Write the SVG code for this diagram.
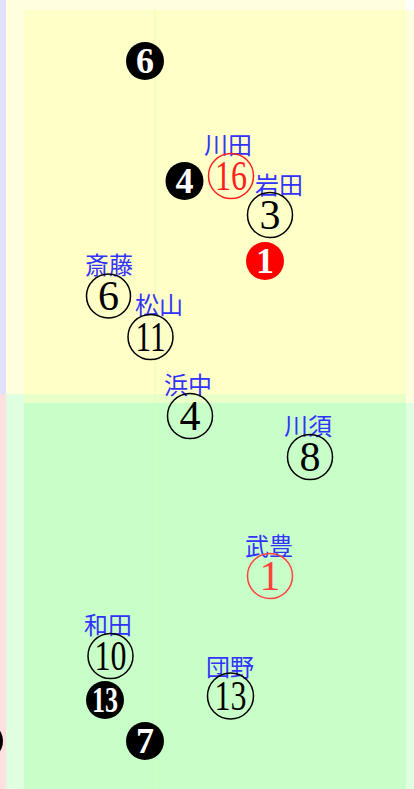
<svg xmlns="http://www.w3.org/2000/svg" width="414" height="789" viewBox="0 0 414 789">
<style>
.lbl{font-family:"Noto Sans CJK JP","Noto Sans CJK SC",sans-serif;font-size:24px;fill:#3333ff;text-anchor:middle}
.ring{fill:none;stroke:#000;stroke-width:1.5}
.ringr{fill:none;stroke:#ff2020;stroke-width:1.5}
.num{font-family:"Liberation Serif","Times New Roman",serif;font-size:42px;fill:#000;text-anchor:middle}
.numr{font-family:"Liberation Serif","Times New Roman",serif;font-size:42px;fill:#ff2020;text-anchor:middle}
.dot{fill:#000}
.dotr{fill:#ff0000}
.wnum{font-family:"Liberation Serif","Times New Roman",serif;font-size:36px;font-weight:bold;fill:#fff;text-anchor:middle}
</style>
<g id="background">
<rect x="0" y="0" width="414" height="789" fill="#ffffff"/>
<rect x="0" y="0" width="6" height="394" fill="#e0e0ff"/>
<rect x="0" y="394" width="6" height="395" fill="#ffe0e0"/>
<rect x="6" y="0" width="400" height="394" fill="#ffffe0"/>
<rect x="6" y="394" width="400" height="395" fill="#e0ffe0"/>
<rect x="406" y="10" width="8" height="393" fill="#ffffe0"/>
<rect x="406" y="403" width="8" height="386" fill="#e0ffe0"/>
<rect x="24" y="10" width="382" height="384" fill="#ffffc8"/>
<rect x="24" y="394" width="382" height="9" fill="#e8ffc8"/>
<rect x="24" y="403" width="382" height="386" fill="#c8ffc8"/>
<line x1="155" y1="10" x2="155" y2="789" stroke="#e0ffb0" stroke-width="1" opacity="0.8"/>
</g>
<g id="connectors"></g>
<g id="n6b"><circle class="dot" cx="145" cy="61" r="19"/><text class="wnum" x="145" y="73">6</text></g>
<g id="n4b"><circle class="dot" cx="184.5" cy="181" r="19"/><text class="wnum" x="184.5" y="193">4</text></g>
<g id="n1r"><circle class="dotr" cx="265" cy="261" r="19"/><text class="wnum" x="265" y="273">1</text></g>
<g id="n13b"><circle class="dot" cx="105" cy="700" r="19"/><text class="wnum" x="105" y="712" textLength="26" lengthAdjust="spacingAndGlyphs">13</text></g>
<g id="n7b"><circle class="dot" cx="145" cy="741" r="19"/><text class="wnum" x="145" y="753">7</text></g>
<g id="nleft"><circle class="dot" cx="-16" cy="741" r="19"/></g>
<g id="kawada"><text class="lbl" x="228" y="154">川田</text><circle class="ringr" cx="231" cy="176" r="22.5"/><text class="numr" x="231" y="190" textLength="32" lengthAdjust="spacingAndGlyphs">16</text></g>
<g id="iwata"><text class="lbl" x="279" y="194">岩田</text><circle class="ring" cx="270" cy="215" r="22.5"/><text class="num" x="270" y="229">3</text></g>
<g id="saito"><text class="lbl" x="109" y="274">斎藤</text><circle class="ring" cx="108.5" cy="296" r="22"/><text class="num" x="108.5" y="310">6</text></g>
<g id="matsuyama"><text class="lbl" x="159" y="314">松山</text><circle class="ring" cx="150.5" cy="337" r="22.5"/><text class="num" x="150.5" y="351" textLength="30" lengthAdjust="spacingAndGlyphs">11</text></g>
<g id="hamanaka"><text class="lbl" x="188" y="394">浜中</text><circle class="ring" cx="190" cy="416" r="22.5"/><text class="num" x="190" y="430">4</text></g>
<g id="kawasu"><text class="lbl" x="308" y="435">川須</text><circle class="ring" cx="310" cy="457" r="22.5"/><text class="num" x="310" y="471">8</text></g>
<g id="taketoyo"><text class="lbl" x="269" y="555">武豊</text><circle class="ringr" cx="270" cy="576" r="22.5" style="stroke:#ff4040"/><text class="numr" x="270" y="590" style="fill:#ff4040">1</text></g>
<g id="wada"><text class="lbl" x="108" y="634">和田</text><circle class="ring" cx="110.5" cy="656" r="22.5"/><text class="num" x="110.5" y="670" textLength="32" lengthAdjust="spacingAndGlyphs">10</text></g>
<g id="danno"><text class="lbl" x="230" y="676">団野</text><circle class="ring" cx="230.5" cy="696" r="23"/><text class="num" x="230.5" y="710" textLength="32" lengthAdjust="spacingAndGlyphs">13</text></g>
</svg>
